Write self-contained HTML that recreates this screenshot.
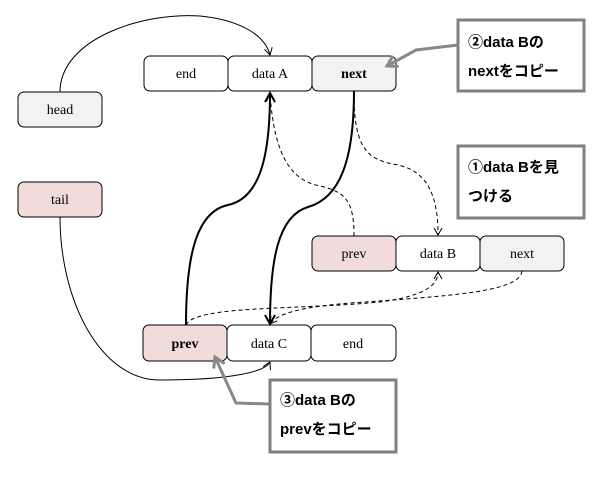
<!DOCTYPE html>
<html><head><meta charset="utf-8"><style>
body{margin:0;background:#fff;width:599px;height:474px;overflow:hidden}
svg text{font-family:"Liberation Serif",serif;font-size:14px}
.j{font-family:"Liberation Sans","Noto Sans CJK JP",sans-serif;font-weight:bold;font-size:15px}
</style></head><body>
<svg width="599" height="474" viewBox="0 0 599 474" xmlns="http://www.w3.org/2000/svg">
<defs>
<marker id="o" markerWidth="10" markerHeight="10" refX="8" refY="5" orient="auto" markerUnits="userSpaceOnUse"><path d="M1,1 L8,5 L1,9" fill="none" stroke="#000" stroke-width="1"/></marker>
<marker id="t" markerWidth="12" markerHeight="12" refX="10" refY="6" orient="auto" markerUnits="userSpaceOnUse"><path d="M1,1 L10,6 L1,11" fill="none" stroke="#000" stroke-width="2"/></marker>
<marker id="g" markerWidth="14" markerHeight="14" refX="11" refY="7" orient="auto" markerUnits="userSpaceOnUse"><path d="M1,1 L11,7 L1,13" fill="none" stroke="#888" stroke-width="3"/></marker>
</defs>
<g stroke="#000" stroke-width="1">
<rect x="144" y="56" width="84" height="35" rx="6" fill="#fff"/>
<rect x="228" y="56" width="84" height="35" rx="6" fill="#fff"/>
<rect x="312" y="56" width="84" height="35" rx="6" fill="#f2f2f2"/>
<rect x="18" y="92" width="84" height="35" rx="6" fill="#f2f2f2"/>
<rect x="18" y="182" width="84" height="35" rx="6" fill="#f2dcdb"/>
<rect x="312" y="236" width="84" height="35" rx="6" fill="#f2dcdb"/>
<rect x="396" y="236" width="84" height="35" rx="6" fill="#fff"/>
<rect x="480" y="236" width="84" height="35" rx="6" fill="#f2f2f2"/>
<rect x="143" y="325" width="84" height="36" rx="6" fill="#f2dcdb"/>
<rect x="227" y="325" width="84" height="36" rx="6" fill="#fff"/>
<rect x="311" y="325" width="85" height="36" rx="6" fill="#fff"/>
</g>
<g text-anchor="middle">
<text x="186" y="78">end</text><text x="270" y="78">data A</text><text x="354" y="78" font-weight="bold">next</text>
<text x="60" y="114">head</text><text x="60" y="204">tail</text>
<text x="354" y="258">prev</text><text x="438" y="258">data B</text><text x="522" y="258">next</text>
<text x="185" y="348" font-weight="bold">prev</text><text x="269" y="348">data C</text><text x="353" y="348">end</text>
</g>
<g fill="none" stroke="#000">
<path d="M60,92 C60,40 140,12 200,16 C240,20 265,35 270,55" marker-end="url(#o)"/>
<path d="M60,217 C60,300 100,380 160,380 C230,380 265,372 270,362" marker-end="url(#o)"/>
<path d="M186,325 C186,260 195,212 228,205 C262,198 270,150 270,93" stroke-width="2" marker-end="url(#t)"/>
<path d="M354,91 C354,160 340,198 308,207 C278,216 270,260 270,324" stroke-width="2" marker-end="url(#t)"/>
<g stroke-dasharray="4,3">
<path d="M354,236 C354,200 345,192 320,186 C288,180 274,150 270,94" marker-end="url(#o)"/>
<path d="M354,93 C354,150 368,160 398,165 C430,172 438,200 438,235" marker-end="url(#o)"/>
<path d="M186,325 C195,305 300,310 380,302 C425,296 438,285 438,272" marker-end="url(#o)"/>
<path d="M522,271 C520,292 450,296 350,303 C290,308 276,316 270,324" marker-end="url(#o)"/>
</g>
</g>
<g fill="none" stroke="#888" stroke-width="3">
<path d="M458,45 L416,50 L387,66" marker-end="url(#g)"/>
<path d="M269,404 L236,403 L215,357" marker-end="url(#g)"/>
</g>
<g fill="#fff" stroke="#808080" stroke-width="3">
<rect x="458" y="20" width="126" height="71"/>
<rect x="458" y="146" width="126" height="72"/>
<rect x="270" y="380" width="126" height="72"/>
</g>
<text class="j" x="468" y="47">②data Bの</text>
<text class="j" x="468" y="76">nextをコピー</text>
<text class="j" x="468" y="172">①data Bを見</text>
<text class="j" x="468" y="201">つける</text>
<text class="j" x="280" y="405">③data Bの</text>
<text class="j" x="280" y="434">prevをコピー</text>
</svg>
</body></html>
